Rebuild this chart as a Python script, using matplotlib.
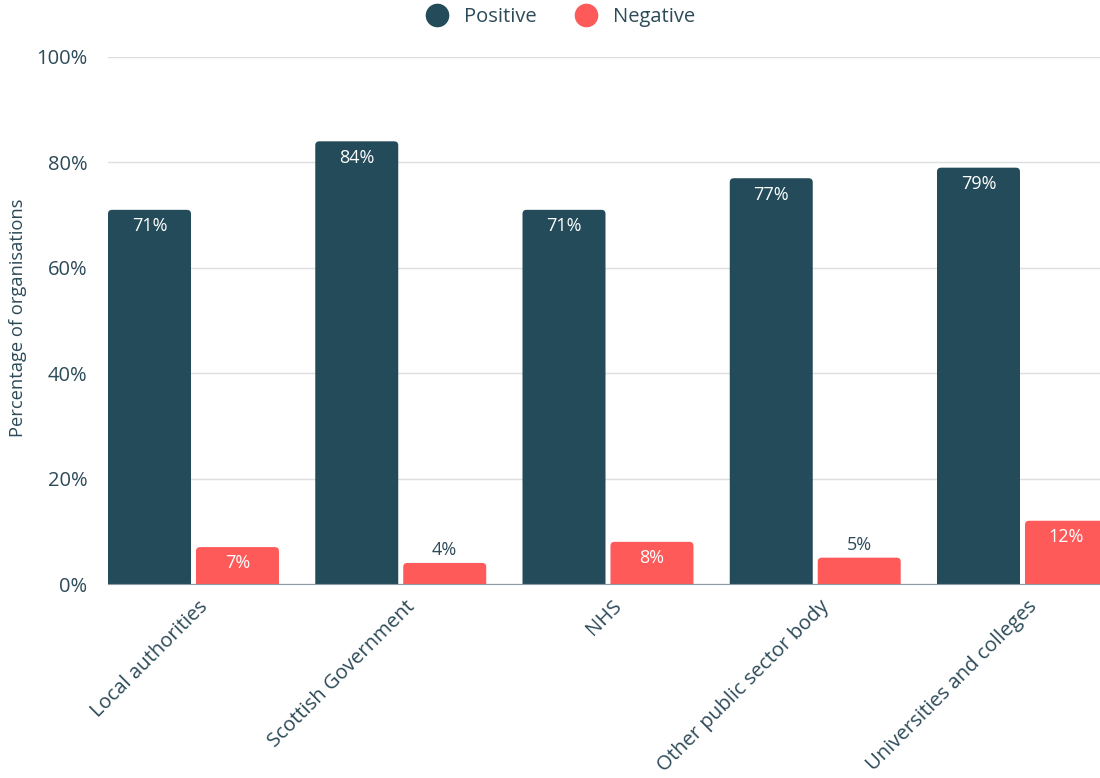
import matplotlib.pyplot as plt
from matplotlib.patches import FancyBboxPatch
from matplotlib.lines import Line2D
import numpy as np

categories = ["Local authorities", "Scottish Government", "NHS",
              "Other public sector body", "Universities and colleges"]
positive = [71, 84, 71, 77, 79]
negative = [7, 4, 8, 5, 12]
yticks = [0, 20, 40, 60, 80, 100]

POS_COLOR = "#244b5a"
NEG_COLOR = "#ff5a5a"
TEXT_COLOR = "#2c4a58"

plt.rcParams['font.family'] = ['Open Sans', 'DejaVu Sans']

fig = plt.figure(figsize=(11, 7.78), dpi=100)
ax = fig.add_axes([108 / 1100, 1 - 584 / 778, 1 - 108 / 1100, (584 - 57) / 778])

x = np.arange(len(categories))
w = 0.4005
gap = 0.024

pos_bars = ax.bar(x - w / 2 - gap / 2, positive, w, color=POS_COLOR, zorder=3)
neg_bars = ax.bar(x + w / 2 + gap / 2, negative, w, color=NEG_COLOR, zorder=3)

# swap plain rectangles for ones with rounded top corners
for bars in (pos_bars, neg_bars):
    for rect in bars:
        rx, rw, rh = rect.get_x(), rect.get_width(), rect.get_height()
        patch = FancyBboxPatch((rx, -2), rw, rh + 2,
                               boxstyle="round,pad=0,rounding_size=0.02",
                               mutation_aspect=38,
                               facecolor=rect.get_facecolor(),
                               edgecolor="none", zorder=3)
        rect.remove()
        ax.add_patch(patch)

# value labels: white inside tall bars, dark above short ones
for xs, vals in ((x - w / 2 - gap / 2, positive), (x + w / 2 + gap / 2, negative)):
    for xi, v in zip(xs, vals):
        if v >= 6:
            ax.text(xi, v - 1.4, f"{v}%", ha="center", va="top",
                    color="white", fontsize=13, zorder=4)
        else:
            ax.text(xi, v + 0.7, f"{v}%", ha="center", va="bottom",
                    color=TEXT_COLOR, fontsize=13, zorder=4)

ax.set_xlim(-0.4125, 4.374)
ax.set_ylim(0, 100)
ax.set_yticks(yticks)
ax.set_yticklabels([f"{t}%" for t in yticks], color=TEXT_COLOR, fontsize=14.5)
ax.yaxis.grid(True, color="#dcdfe1", linewidth=1, zorder=0)
ax.tick_params(axis="both", length=0)
ax.tick_params(axis="y", pad=15)

ax.set_xticks(x + 0.02)
ax.set_xticklabels(categories, rotation=45, ha="right", va="top",
                   rotation_mode="anchor", color=TEXT_COLOR, fontsize=14.6)
ax.tick_params(axis="x", pad=9)

for s in ("top", "right", "left"):
    ax.spines[s].set_visible(False)
ax.spines["bottom"].set_color("#8c9ca6")
ax.spines["bottom"].set_zorder(5)

fig.text(18 / 1100, 1 - 318 / 778, "Percentage of organisations", rotation=90,
         ha="center", va="center", color=TEXT_COLOR, fontsize=13.2)

handles = [Line2D([], [], marker="o", linestyle="none", markersize=16,
                  markerfacecolor=POS_COLOR, markeredgecolor=POS_COLOR),
           Line2D([], [], marker="o", linestyle="none", markersize=16,
                  markerfacecolor=NEG_COLOR, markeredgecolor=NEG_COLOR)]
fig.legend(handles, ["Positive", "Negative"], loc="center",
           bbox_to_anchor=(556 / 1100, 1 - 17 / 778), ncol=2, frameon=False,
           fontsize=14.5, labelcolor=TEXT_COLOR, handletextpad=0.3,
           columnspacing=1.5)

fig.savefig("out.png", dpi=100)
